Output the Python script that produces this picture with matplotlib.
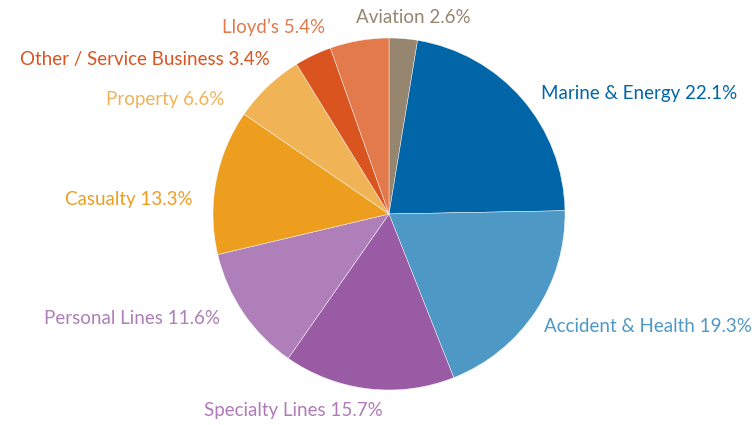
import matplotlib
matplotlib.use("Agg")
import matplotlib.pyplot as plt

categories = ["Aviation", "Marine & Energy", "Accident & Health", "Specialty Lines",
              "Personal Lines", "Casualty", "Property", "Other / Service Business", "Lloyd\u2019s"]
shares = [2.6, 22.1, 19.3, 15.7, 11.6, 13.3, 6.6, 3.4, 5.4]

wedge_colors = ["#968670", "#0066A8", "#4E98C6", "#9A5BA5", "#AE7FB8",
                "#EE9E1F", "#F0B356", "#DA5420", "#E27A4B"]
text_colors = ["#968670", "#0066A8", "#4E98C6", "#B07AB8", "#AE7FB8",
               "#EE9E1F", "#F0B356", "#DA5420", "#E27A4B"]
# label anchor positions (pie radius = 1) and alignment
label_pos = [(-0.188, 1.119, "left"), (0.864, 0.682, "left"), (0.881, -0.642, "left"),
             (-1.051, -1.114, "left"), (-0.960, -0.591, "right"), (-1.114, 0.080, "right"),
             (-0.938, 0.653, "right"), (-0.676, 0.875, "right"), (-0.364, 1.0625, "right")]

W, H = 756, 425
cx, cy, R = 389, 214, 176
fig = plt.figure(figsize=(W / 100, H / 100), dpi=100)
ax = fig.add_axes([0, 0, 1, 1])
ax.pie(shares, colors=wedge_colors, startangle=90, counterclock=False, radius=1,
       wedgeprops=dict(edgecolor="white", linewidth=0.3))
ax.set_xlim(-cx / R, (W - cx) / R)
ax.set_ylim(-(H - cy) / R, cy / R)
ax.set_aspect("equal")
ax.axis("off")

for cat, val, col, (x, y, ha) in zip(categories, shares, text_colors, label_pos):
    ax.text(x, y, f"{cat} {val:.1f}%", color=col, ha=ha, va="center",
            fontsize=13.5, family="Lato")

fig.savefig("out.png", dpi=100)
